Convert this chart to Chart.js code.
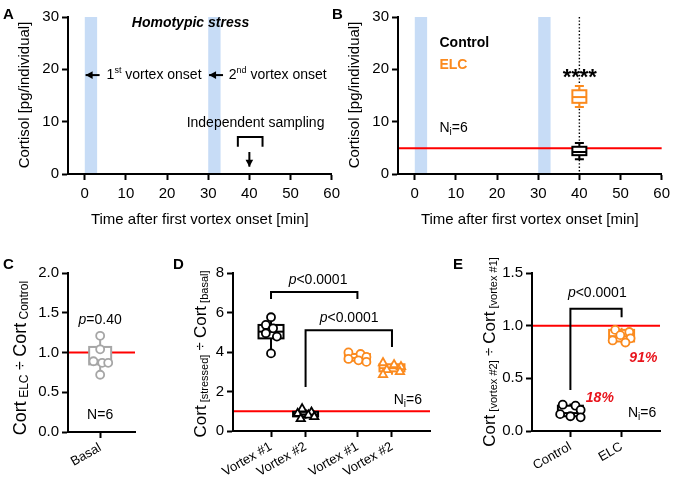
<!DOCTYPE html>
<html>
<head>
<meta charset="utf-8">
<script src="https://cdn.jsdelivr.net/npm/chart.js@4.4.1/dist/chart.umd.min.js"></script>
<style>
  body { margin: 0; background: #fff; }
  #wrap { position: relative; width: 675px; height: 486px; overflow: hidden; font-family: "Liberation Sans", Arial, sans-serif; }
  #wrap canvas { position: absolute; }
  .tag { position: absolute; font-weight: bold; font-size: 15px; line-height: 1; color: #000; }
</style>
</head>
<body>
<div id="wrap">
  <canvas id="panelA" width="345" height="230" style="left:0;top:0"></canvas>
  <canvas id="panelB" width="345" height="230" style="left:330px;top:0"></canvas>
  <canvas id="panelC" width="190" height="256" style="left:0;top:230px"></canvas>
  <canvas id="panelD" width="250" height="256" style="left:190px;top:230px"></canvas>
  <canvas id="panelE" width="245" height="256" style="left:430px;top:230px"></canvas>
  <div class="tag" style="left:3px;top:6px">A</div>
  <div class="tag" style="left:332px;top:6px">B</div>
  <div class="tag" style="left:3px;top:256px">C</div>
  <div class="tag" style="left:173px;top:256px">D</div>
  <div class="tag" style="left:453px;top:256px">E</div>
</div>
<script>
const FONT = '"Liberation Sans", Arial, Helvetica, sans-serif';
const ORANGE = '#fb8a1e';
const GREY = '#a6a6a6';
const RED = '#ff0000';
const TXT_RED = '#e8141c';
const BAND = '#c7dcf6';

// --- panel A / B (time course) ---
const timeTicks = [0, 10, 20, 30, 40, 50, 60];
const cortisolTicks = [0, 10, 20, 30];
const vortexWindows = [[0, 3], [30, 33]];
const samplingTime = 40;
const baselineCortisol = 4.9;
// box stats are [min, q1, median, q3, max]
const controlStatsB = [2.8, 3.6, 4.2, 5.2, 5.9];
const elcStatsB = [12.8, 13.6, 14.7, 16.0, 16.8];

// --- panel C (basal ratio) ---
const basalLabel = ['Basal'];
const ratioTicksC = [0, 0.5, 1, 1.5, 2];
const basalRatio = [1.21, 1.04, 0.89, 0.87, 0.87, 0.72];
const basalStats = [0.72, 0.85, 0.9, 1.07, 1.21];

// --- panel D (stressed / basal) ---
const groupLabelsD = ['Vortex #1', 'Vortex #2', 'Vortex #1', 'Vortex #2'];
const ratioTicksD = [0, 2, 4, 6, 8];
const ctrlVortex1 = [5.76, 5.37, 5.2, 4.95, 4.78, 3.93];
const ctrlVortex2 = [1.12, 0.95, 0.88, 0.8, 0.72, 0.62];
const elcVortex1 = [3.98, 3.9, 3.75, 3.65, 3.58, 3.5];
const elcVortex2 = [3.45, 3.35, 3.25, 3.1, 3.0, 2.85];
const statsD = [
  [3.93, 4.69, 5.03, 5.37, 5.76],
  [0.62, 0.74, 0.84, 0.97, 1.12],
  [3.5, 3.56, 3.7, 3.9, 3.98],
  [2.85, 3.02, 3.18, 3.38, 3.45]
];
const baselineRatio = 1;

// --- panel E (vortex #2 / vortex #1) ---
const groupLabelsE = ['Control', 'ELC'];
const ratioTicksE = [0, 0.5, 1, 1.5];
const controlSecond = [0.25, 0.24, 0.2, 0.16, 0.14, 0.13];
const elcSecond = [0.96, 0.94, 0.91, 0.88, 0.86, 0.84];
const statsE = [
  [0.13, 0.14, 0.17, 0.24, 0.26],
  [0.83, 0.85, 0.9, 0.96, 0.98]
];

// where the groups sit on the x axes, and point spread inside a group
const posC = 0.48;
const jitC = [0, 0, -0.1, 0.03, 0.12, 0];
const posD = [1.1, 2.1, 3.6, 4.6];
const jitD = [
  [0, -0.15, 0.06, -0.15, 0.17, 0],
  [-0.1, 0.17, -0.23, 0.08, 0.25, -0.14],
  [-0.26, 0.09, 0.26, -0.26, 0.03, 0.26],
  [-0.26, 0.06, 0.26, -0.15, 0.23, -0.26]
];
const posE = [0.3, 0.7];
const jitE = [
  [-0.06, 0.04, 0.08, -0.08, 0, 0.08],
  [-0.05, 0.06, -0.01, 0.07, -0.07, 0.03]
];

const f = (size, style) => ((style || '') + ' ' + size + 'px ' + FONT).trim();

function richText(ctx, segs, x, y, align, angle) {
  ctx.save();
  ctx.translate(x, y);
  if (angle) ctx.rotate(angle);
  let w = 0;
  segs.forEach(s => { ctx.font = s.f; w += ctx.measureText(s.t).width; });
  let cx = align === 'center' ? -w / 2 : (align === 'right' ? -w : 0);
  ctx.textAlign = 'left';
  ctx.textBaseline = 'middle';
  segs.forEach(s => {
    ctx.font = s.f;
    ctx.fillStyle = s.c || '#000';
    ctx.fillText(s.t, cx, s.dy || 0);
    cx += ctx.measureText(s.t).width;
  });
  ctx.restore();
}

function arrowHead(ctx, x1, y1, x2, y2, size) {
  const a = Math.atan2(y2 - y1, x2 - x1);
  ctx.beginPath();
  ctx.moveTo(x2, y2);
  ctx.lineTo(x2 - size * Math.cos(a - 0.5), y2 - size * Math.sin(a - 0.5));
  ctx.lineTo(x2 - size * Math.cos(a + 0.5), y2 - size * Math.sin(a + 0.5));
  ctx.closePath();
  ctx.fill();
}

const decor = {
  id: 'decor',
  beforeDatasetsDraw(chart, args, o) {
    const ctx = chart.ctx, a = chart.chartArea;
    const x = chart.scales.x, y = chart.scales.y;
    ctx.save();
    (o.bands || []).forEach(b => {
      const x1 = x.getPixelForValue(b[0]), x2 = x.getPixelForValue(b[1]);
      ctx.fillStyle = BAND;
      ctx.fillRect(x1, a.top, x2 - x1, a.bottom - a.top - 1);
    });
    if (o.vline !== undefined) {
      const px = x.getPixelForValue(o.vline);
      ctx.strokeStyle = '#000';
      ctx.lineWidth = 1.4;
      ctx.setLineDash([1.4, 2]);
      ctx.beginPath(); ctx.moveTo(px, a.top); ctx.lineTo(px, a.bottom); ctx.stroke();
      ctx.setLineDash([]);
    }
    if (o.refLine !== undefined) {
      const py = y.getPixelForValue(o.refLine);
      ctx.strokeStyle = RED;
      ctx.lineWidth = 2;
      ctx.beginPath(); ctx.moveTo(a.left + 1, py); ctx.lineTo(a.right, py); ctx.stroke();
    }
    (o.boxes || []).forEach(b => {
      const cx = x.getPixelForValue(b.x);
      const p = b.s.map(v => y.getPixelForValue(v));
      ctx.strokeStyle = b.color;
      ctx.lineWidth = 2;
      ctx.beginPath();
      ctx.moveTo(cx, p[4]); ctx.lineTo(cx, p[3]);
      ctx.moveTo(cx, p[1]); ctx.lineTo(cx, p[0]);
      if (b.cap) {
        ctx.moveTo(cx - b.cap, p[4]); ctx.lineTo(cx + b.cap, p[4]);
        ctx.moveTo(cx - b.cap, p[0]); ctx.lineTo(cx + b.cap, p[0]);
      }
      ctx.stroke();
      ctx.fillStyle = '#fff';
      ctx.fillRect(cx - b.w, p[3], 2 * b.w, p[1] - p[3]);
      ctx.strokeRect(cx - b.w, p[3], 2 * b.w, p[1] - p[3]);
      ctx.beginPath(); ctx.moveTo(cx - b.w, p[2]); ctx.lineTo(cx + b.w, p[2]); ctx.stroke();
    });
    ctx.restore();
  },
  afterDraw(chart, args, o) {
    const ctx = chart.ctx;
    const x = chart.scales.x, y = chart.scales.y;
    ctx.save();
    ctx.strokeStyle = '#000';
    ctx.fillStyle = '#000';
    ctx.lineWidth = 2;
    (o.brackets || []).forEach(b => {
      const x1 = x.getPixelForValue(b.x1), x2 = x.getPixelForValue(b.x2);
      const yt = y.getPixelForValue(b.y);
      ctx.beginPath();
      ctx.moveTo(x1, y.getPixelForValue(b.y1));
      ctx.lineTo(x1, yt);
      ctx.lineTo(x2, yt);
      ctx.lineTo(x2, y.getPixelForValue(b.y2));
      ctx.stroke();
    });
    (o.arrows || []).forEach(r => {
      const x1 = x.getPixelForValue(r.x1), y1 = y.getPixelForValue(r.y1);
      const x2 = x.getPixelForValue(r.x2), y2 = y.getPixelForValue(r.y2);
      ctx.beginPath(); ctx.moveTo(x1, y1); ctx.lineTo(x2, y2); ctx.stroke();
      arrowHead(ctx, x1, y1, x2, y2, 8);
    });
    (o.texts || []).forEach(t => {
      richText(ctx, t.segs, x.getPixelForValue(t.x), y.getPixelForValue(t.y) + (t.dy || 0), t.align);
    });
    if (o.yTitle) richText(ctx, o.yTitle.segs, o.yTitle.x, o.yTitle.y, 'center', -Math.PI / 2);
    ctx.restore();
  }
};
Chart.register(decor);
Chart.defaults.font.family = FONT;
Chart.defaults.color = '#000';

function axis(min, max, tickValues, labelFn, tickOpts, extra) {
  return Object.assign({
    type: 'linear',
    min: min,
    max: max,
    afterBuildTicks: s => { s.ticks = tickValues.map(v => ({ value: v })); },
    border: { display: true, color: '#000', width: 2 },
    grid: { display: true, drawOnChartArea: false, drawTicks: true, tickLength: 6, tickColor: '#000', tickWidth: 2 },
    ticks: Object.assign({ color: '#000', font: { size: 15 }, padding: 3, autoSkip: false, callback: labelFn }, tickOpts || {})
  }, extra || {});
}

function points(values, pos, jit, color, style) {
  return {
    data: values.map((v, i) => ({ x: pos + jit[i], y: v })),
    pointStyle: style,
    pointRadius: style === 'triangle' ? 4.8 : 4,
    pointBorderWidth: 1.8,
    pointBorderColor: color,
    pointBackgroundColor: '#fff',
    showLine: false
  };
}

function panel(id, box, xAxis, yAxis, datasets, decorOpts) {
  const cv = document.getElementById(id);
  const W = cv.width, H = cv.height;
  xAxis.afterFit = s => { s.height = H - box.B; };
  yAxis.afterFit = s => { s.width = box.L; };
  return new Chart(cv, {
    type: 'scatter',
    data: { datasets: datasets },
    options: {
      responsive: false,
      animation: false,
      events: [],
      layout: { padding: { left: 0, top: box.T, right: W - box.R, bottom: 0 } },
      plugins: { legend: { display: false }, tooltip: { enabled: false }, decor: decorOpts },
      scales: { x: xAxis, y: yAxis }
    }
  });
}

const ni6 = [{ t: 'N', f: f(14) }, { t: 'i', f: f(10), dy: 4 }, { t: '=6', f: f(14) }];
const pSmall = [{ t: 'p', f: f(14, 'italic') }, { t: '<0.0001', f: f(14) }];
const cortisolTitle = { segs: [{ t: 'Cortisol [pg/individual]', f: f(15) }], x: 25, y: 95 };
const ratioTitle = (a, b, x, y, big) => ({
  segs: [
    { t: 'Cort', f: f(big) }, { t: ' ' + a, f: f(big - 6), dy: 4 },
    { t: ' \u00f7 ', f: f(big - 2) },
    { t: 'Cort', f: f(big) }, { t: ' ' + b, f: f(big - 6), dy: 4 }
  ], x: x, y: y
});
const timeTitle = { display: true, text: 'Time after first vortex onset [min]', font: { size: 15 }, padding: { top: 4, bottom: 1 } };
const rotated = { font: { size: 13 }, padding: 2, minRotation: 30, maxRotation: 30 };

// A
panel('panelA', { L: 68, T: 17, R: 335, B: 174 },
  axis(-4.08, 60, timeTicks, v => v, { padding: 5, maxRotation: 0 }, { title: timeTitle }),
  axis(0, 30, cortisolTicks, v => v),
  [],
  {
    bands: vortexWindows,
    arrows: [
      { x1: 3.6, y1: 18.9, x2: 0.2, y2: 18.9 },
      { x1: 33.6, y1: 18.9, x2: 30.2, y2: 18.9 },
      { x1: samplingTime, y1: 4.2, x2: samplingTime, y2: 1.4 }
    ],
    brackets: [{ x1: 37.2, x2: 43.2, y: 7.05, y1: 5.2, y2: 5.2 }],
    texts: [
      { segs: [{ t: 'Homotypic stress', f: f(14, 'italic bold') }], x: 25.7, y: 28.85, align: 'center' },
      { segs: [{ t: '1', f: f(14) }, { t: 'st', f: f(9), dy: -5 }, { t: ' vortex onset', f: f(14) }], x: 5.3, y: 18.9, align: 'left' },
      { segs: [{ t: '2', f: f(14) }, { t: 'nd', f: f(9), dy: -5 }, { t: ' vortex onset', f: f(14) }], x: 35, y: 18.9, align: 'left' },
      { segs: [{ t: 'Independent sampling', f: f(14) }], x: 41.5, y: 9.75, align: 'center' }
    ],
    yTitle: cortisolTitle
  });

// B
panel('panelB', { L: 68, T: 17, R: 335, B: 174 },
  axis(-4.08, 60, timeTicks, v => v, { padding: 5, maxRotation: 0 }, { title: timeTitle }),
  axis(0, 30, cortisolTicks, v => v),
  [],
  {
    bands: vortexWindows,
    vline: samplingTime,
    refLine: baselineCortisol,
    boxes: [
      { x: samplingTime, s: controlStatsB, color: '#000', w: 7, cap: 4.5 },
      { x: samplingTime, s: elcStatsB, color: ORANGE, w: 7, cap: 4.5 }
    ],
    texts: [
      { segs: [{ t: 'Control', f: f(14, 'bold') }], x: 6, y: 25, align: 'left' },
      { segs: [{ t: 'ELC', f: f(14, 'bold'), c: ORANGE }], x: 6, y: 20.8, align: 'left' },
      { segs: [{ t: '****', f: f(22, 'bold') }], x: 40.1, y: 19.3, dy: 5, align: 'center' },
      { segs: ni6, x: 6, y: 8.8, align: 'left' }
    ],
    yTitle: cortisolTitle
  });

// C
panel('panelC', { L: 68, T: 43, R: 135, B: 202 },
  axis(0, 1, [posC], (v, i) => basalLabel[i], rotated),
  axis(0, 2, ratioTicksC, v => v.toFixed(1)),
  [points(basalRatio, posC, jitC, GREY, 'circle')],
  {
    refLine: baselineRatio,
    boxes: [{ x: posC, s: basalStats, color: GREY, w: 11 }],
    texts: [
      { segs: [{ t: 'p', f: f(14, 'italic') }, { t: '=0.40', f: f(14) }], x: posC, y: 1.41, align: 'center' },
      { segs: [{ t: 'N=6', f: f(14) }], x: posC, y: 0.21, align: 'center' }
    ],
    yTitle: ratioTitle('ELC', 'Control', 21, 128, 18)
  });

// D
panel('panelD', { L: 43, T: 43, R: 240, B: 201 },
  axis(0, 5.7, posD, (v, i) => groupLabelsD[i], rotated),
  axis(0, 8, ratioTicksD, v => v),
  [
    points(ctrlVortex1, posD[0], jitD[0], '#000', 'circle'),
    points(ctrlVortex2, posD[1], jitD[1], '#000', 'triangle'),
    points(elcVortex1, posD[2], jitD[2], ORANGE, 'circle'),
    points(elcVortex2, posD[3], jitD[3], ORANGE, 'triangle')
  ],
  {
    refLine: baselineRatio,
    boxes: [
      { x: posD[0], s: statsD[0], color: '#000', w: 12.5 },
      { x: posD[1], s: statsD[1], color: '#000', w: 12.5 },
      { x: posD[2], s: statsD[2], color: ORANGE, w: 12.5 },
      { x: posD[3], s: statsD[3], color: ORANGE, w: 12.5 }
    ],
    brackets: [
      { x1: posD[0], x2: posD[2], y: 7.04, y1: 6.68, y2: 6.68 },
      { x1: posD[1], x2: posD[3], y: 5.1, y1: 2.23, y2: 4.25 }
    ],
    texts: [
      { segs: pSmall, x: 2.46, y: 7.65, align: 'center' },
      { segs: pSmall, x: 3.36, y: 5.72, align: 'center' },
      { segs: ni6, x: 5.06, y: 1.57, align: 'center' }
    ],
    yTitle: ratioTitle('[stressed]', '[basal]', 11, 124, 17)
  });

// E
panel('panelE', { L: 102, T: 43, R: 230, B: 201 },
  axis(0, 1, posE, (v, i) => groupLabelsE[i], rotated),
  axis(0, 1.5, ratioTicksE, v => v.toFixed(1)),
  [
    points(controlSecond, posE[0], jitE[0], '#000', 'circle'),
    points(elcSecond, posE[1], jitE[1], ORANGE, 'circle')
  ],
  {
    refLine: baselineRatio,
    boxes: [
      { x: posE[0], s: statsE[0], color: '#000', w: 12.5 },
      { x: posE[1], s: statsE[1], color: ORANGE, w: 12.5 }
    ],
    brackets: [{ x1: posE[0], x2: posE[1], y: 1.16, y1: 0.39, y2: 1.08 }],
    texts: [
      { segs: pSmall, x: 0.51, y: 1.31, align: 'center' },
      { segs: [{ t: '91%', f: f(14, 'italic bold'), c: TXT_RED }], x: 0.87, y: 0.69, align: 'center' },
      { segs: [{ t: '18%', f: f(14, 'italic bold'), c: TXT_RED }], x: 0.53, y: 0.31, align: 'center' },
      { segs: ni6, x: 0.86, y: 0.17, align: 'center' }
    ],
    yTitle: ratioTitle('[vortex #2]', '[vortex #1]', 60, 122, 17)
  });
</script>
</body>
</html>
